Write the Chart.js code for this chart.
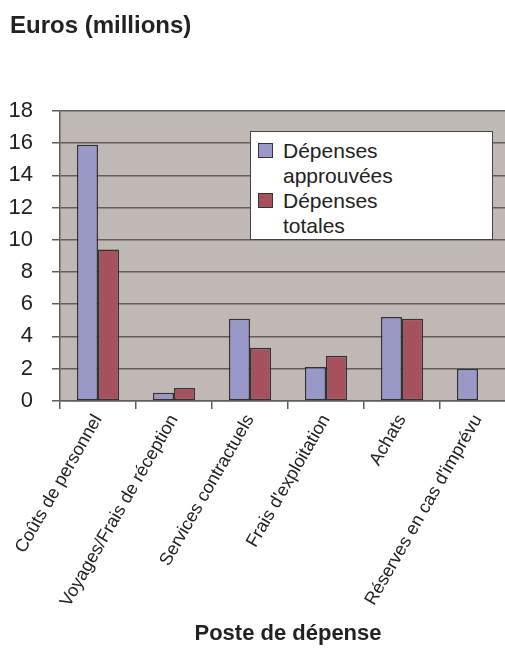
<!DOCTYPE html>
<html>
<head>
<meta charset="utf-8">
<script src="https://cdn.jsdelivr.net/npm/chart.js@4/dist/chart.umd.min.js"></script>
<style>
  html, body { margin: 0; padding: 0; background: #ffffff; overflow: hidden; }
  #wrap { position: relative; width: 505px; height: 667px; overflow: hidden; }
  #legend {
    position: absolute; left: 250px; top: 131px; width: 243px; height: 109px;
    background: #ffffff; border: 1px solid #444; box-sizing: border-box;
    font-family: "Liberation Sans", Arial, sans-serif; font-size: 21px; line-height: 25px;
    color: #222; padding: 6px 0 0 7px;
  }
  .item { display: flex; align-items: flex-start; }
  .swatch { width: 13px; height: 13px; border: 1.5px solid #333; margin: 5px 10px 0 0; flex: none; }
  .txt { width: 125px; }
</style>
</head>
<body>
<div id="wrap">
  <canvas id="c" width="520" height="667" style="width:520px;height:667px;"></canvas>
  <div id="legend"></div>
</div>
<script>
// Budget lines and amounts, in millions of euros
const categories = [
  "Coûts de personnel",
  "Voyages/Frais de réception",
  "Services contractuels",
  "Frais d'exploitation",
  "Achats",
  "Réserves en cas d'imprévu"
];
const seriesNames = ["Dépenses approuvées", "Dépenses totales"];
const approved = [15.9, 0.5, 5.1, 2.1, 5.2, 2.0];
const spent = [9.4, 0.8, 3.3, 2.8, 5.1, null];
const yTicks = [0, 2, 4, 6, 8, 10, 12, 14, 16, 18];

const FONT = "'Liberation Sans', Arial, Helvetica, sans-serif";
const colors = ["#9a97c9", "#a6515e"];
const gridColor = "#625c5e";

// Grey plot background behind the bars
const plotBackground = {
  id: "plotBackground",
  beforeDraw(chart) {
    const { ctx, chartArea: a } = chart;
    ctx.save();
    ctx.fillStyle = "#c0b8b4";
    ctx.fillRect(a.left, a.top, a.right - a.left, a.bottom - a.top);
    ctx.restore();
  }
};

const chart = new Chart(document.getElementById("c"), {
  type: "bar",
  data: {
    labels: categories,
    datasets: [
      { label: seriesNames[0], data: approved, backgroundColor: colors[0],
        borderColor: "#333", borderWidth: 1.5, borderSkipped: false },
      { label: seriesNames[1], data: spent, backgroundColor: colors[1],
        borderColor: "#333", borderWidth: 1.5, borderSkipped: false }
    ]
  },
  options: {
    responsive: false,
    animation: false,
    datasets: { bar: { categoryPercentage: 0.555, barPercentage: 1.0 } },
    layout: { padding: { left: 10, right: 4, top: 0, bottom: 20 } },
    plugins: {
      legend: { display: false },
      tooltip: { enabled: false },
      title: {
        display: true,
        text: "Euros (millions)",
        align: "start",
        color: "#222",
        font: { family: FONT, size: 24, weight: "bold" },
        padding: { top: 12, bottom: 70 }
      }
    },
    scales: {
      x: {
        afterFit(scale) { scale.paddingLeft = 0; scale.paddingRight = 0; },
        grid: { display: true, drawOnChartArea: false, drawTicks: true, tickLength: 8,
                color: gridColor, lineWidth: 1.5 },
        border: { display: true, color: gridColor, width: 1.5 },
        ticks: { color: "#222", font: { family: FONT, size: 18 },
                 maxRotation: 60, minRotation: 60, padding: 2, autoSkip: false },
        title: { display: true, text: "Poste de dépense", color: "#222",
                 font: { family: FONT, size: 22, weight: "bold" },
                 padding: { top: 8, bottom: 0 } }
      },
      y: {
        min: 0, max: 18,
        afterBuildTicks(scale) { scale.ticks = yTicks.map(v => ({ value: v })); },
        afterFit(scale) { scale.width = 50; },
        grid: { color: gridColor, lineWidth: 1.5, tickLength: 8, drawTicks: true },
        border: { display: true, color: gridColor, width: 1.5 },
        ticks: { color: "#222", font: { family: FONT, size: 22 }, padding: 19 }
      }
    }
  },
  plugins: [plotBackground]
});

// Legend box built from the datasets
const legend = document.getElementById("legend");
chart.data.datasets.forEach(ds => {
  const item = document.createElement("div");
  item.className = "item";
  const sw = document.createElement("span");
  sw.className = "swatch";
  sw.style.background = ds.backgroundColor;
  const t = document.createElement("span");
  t.className = "txt";
  t.textContent = ds.label;
  item.appendChild(sw);
  item.appendChild(t);
  legend.appendChild(item);
});
</script>
</body>
</html>
